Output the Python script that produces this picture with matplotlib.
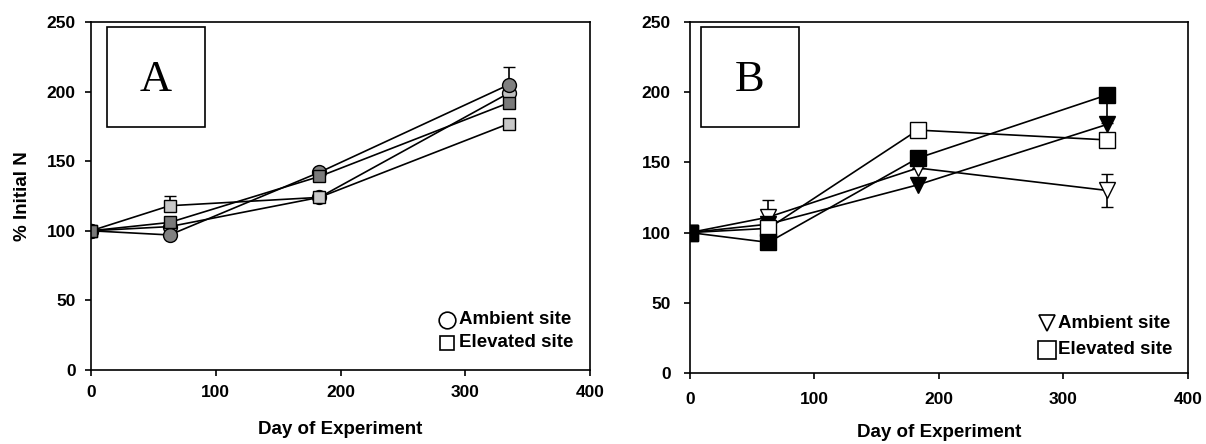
import matplotlib.pyplot as plt

plt.rcParams['font.family'] = ['Liberation Sans', 'DejaVu Sans']

days = [0, 63, 183, 335]

# Panel A: % initial N
a_amb_dark = [100, 97, 142, 205]
a_amb_light = [100, 103, 124, 199]
a_elev_dark = [100, 106, 139, 192]
a_elev_light = [100, 118, 124, 177]
a_err_amb_dark = [0, 0, 0, 13]
a_err_elev_light = [0, 7, 0, 0]

# Panel B
b_amb_open = [100, 111, 146, 130]
b_amb_fill = [100, 106, 134, 177]
b_elev_open = [100, 103, 173, 166]
b_elev_fill = [100, 93, 153, 198]
b_err_amb_open_lo = [0, 0, 0, 12]
b_err_amb_open_hi = [0, 12, 0, 12]
b_err_elev_fill_lo = [0, 0, 0, 20]

legend_labels = ['Ambient site', 'Elevated site']

fig = plt.figure(figsize=(12.06, 4.44), dpi=100)
axA = fig.add_axes([0.0755, 0.1667, 0.4138, 0.7838])
axB = fig.add_axes([0.5721, 0.160, 0.4129, 0.7905])


def style(ax, pad, lpad):
    ax.set_xlim(0, 400)
    ax.set_ylim(0, 250)
    ax.set_xticks([0, 100, 200, 300, 400])
    ax.set_yticks([0, 50, 100, 150, 200, 250])
    ax.tick_params(direction='out', length=4, width=1.2, labelsize=12.5, pad=pad)
    for lab in ax.get_xticklabels() + ax.get_yticklabels():
        lab.set_fontweight('bold')
    for s in ax.spines.values():
        s.set_linewidth(1.2)
    ax.set_xlabel('Day of Experiment', fontsize=13.5, fontweight='bold', labelpad=lpad)


def series(ax, y, marker, face, ms, err=None):
    ax.errorbar(days, y, yerr=err, color='black', lw=1.2, marker=marker, ms=ms,
                mfc=face, mec='black', mew=1.0, ecolor='black', elinewidth=1.2,
                capsize=4, capthick=1.2)


def legend(ax, markers, sizes, x, ys, tx):
    for m, s, y, lab in zip(markers, sizes, ys, legend_labels):
        ax.plot([x], [y], transform=ax.transAxes, ls='none', marker=m, ms=s,
                mfc='white', mec='black', mew=1.2, clip_on=False)
        ax.text(tx, y, lab, transform=ax.transAxes, ha='left', va='center',
                fontsize=13.5, fontweight='bold')


# A
series(axA, a_amb_light, 'o', '#c0c0c0', 10)
series(axA, a_elev_light, 's', '#c8c8c8', 9, [[0] * 4, a_err_elev_light])
series(axA, a_amb_dark, 'o', '#808080', 10, [[0] * 4, a_err_amb_dark])
series(axA, a_elev_dark, 's', '#7a7a7a', 9)
for y in [a_elev_light, a_elev_dark]:
    axA.plot(days, y, ls='none', marker='+', ms=3, color='black', mew=0.6)
style(axA, 7, 15)
axA.set_ylabel('% Initial N', fontsize=13.5, fontweight='bold', labelpad=11)
legend(axA, ['o', 's'], [12, 10], 0.713, [0.144, 0.078], 0.737)

# B
series(axB, b_amb_open, 'v', 'white', 12, [b_err_amb_open_lo, b_err_amb_open_hi])
series(axB, b_amb_fill, 'v', 'black', 12)
series(axB, b_elev_open, 's', 'white', 11)
series(axB, b_elev_fill, 's', 'black', 11, [b_err_elev_fill_lo, [0] * 4])
style(axB, 10, 12)
legend(axB, ['v', 's'], [12, 13], 0.717, [0.142, 0.066], 0.739)

# panel letters in boxes
for letter, x0 in [('A', 107), ('B', 701)]:
    box = plt.Rectangle((x0 / 1206, 1 - 127 / 444), 98 / 1206, 100 / 444,
                        transform=fig.transFigure, fill=False, ec='black', lw=1.2)
    fig.add_artist(box)
    fig.text((x0 + 49) / 1206, 1 - 80 / 444, letter, ha='center', va='center',
             fontsize=32, family='Liberation Serif')

fig.savefig('out.png', dpi=100)
